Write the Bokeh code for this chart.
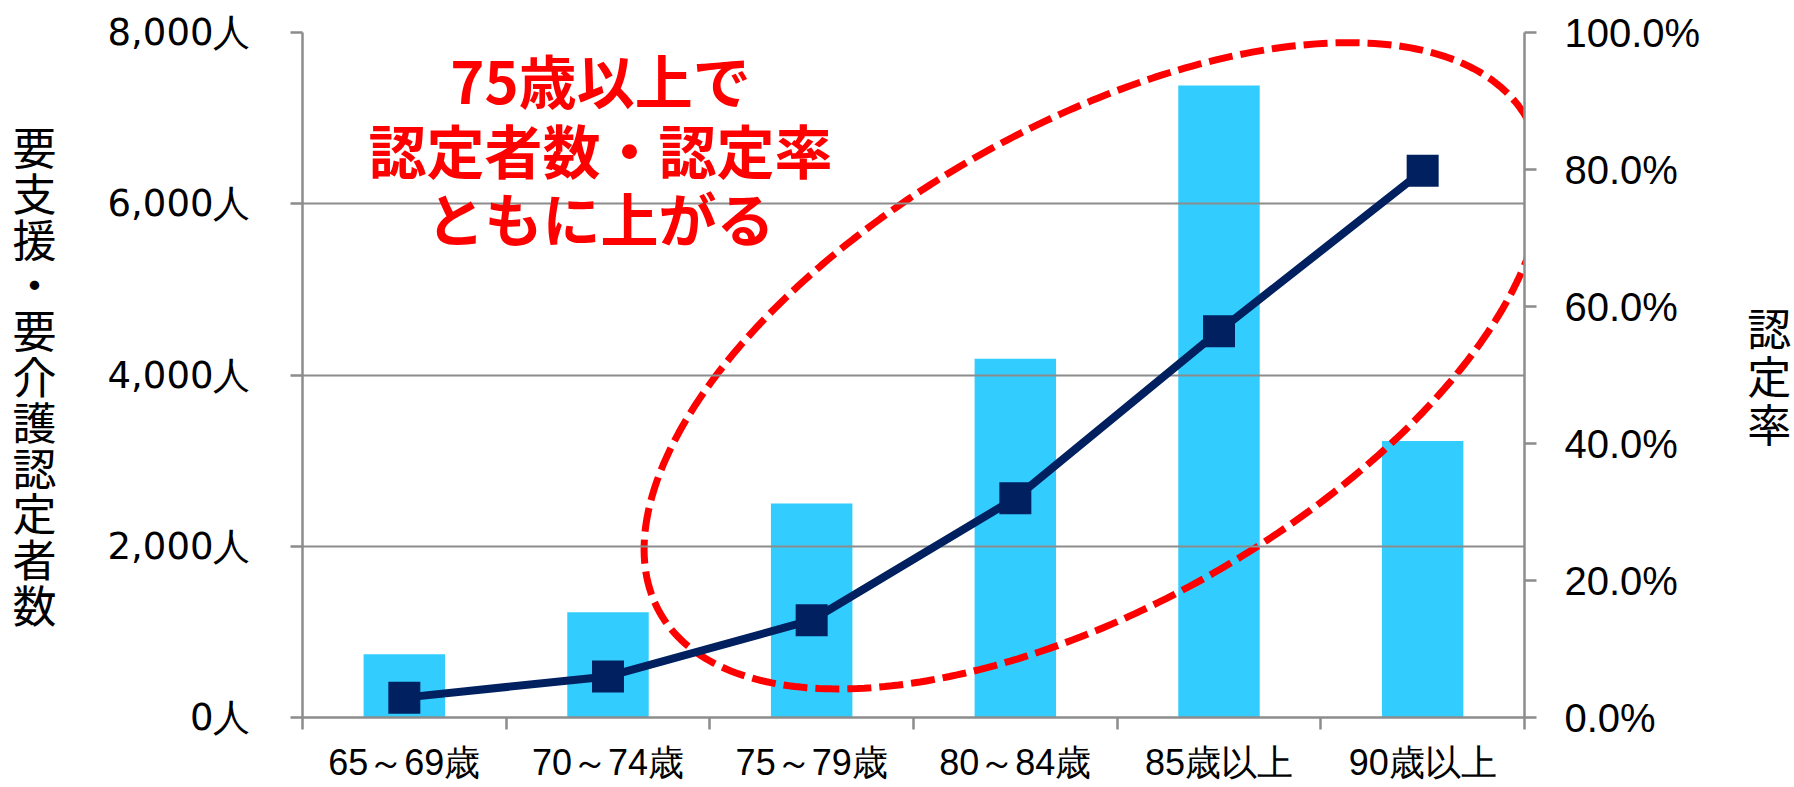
import math
from bokeh.plotting import figure
from bokeh.models import Range1d, LinearAxis, FixedTicker, Label, PolyAnnotation
from bokeh.embed import file_html
from bokeh.resources import INLINE

# ---- data ----
categories = ["65～69歳", "70～74歳", "75～79歳", "80～84歳", "85歳以上", "90歳以上"]
counts = [740, 1230, 2500, 4190, 7380, 3230]          # 要支援・要介護認定者数 (人)
rates = [2.9, 6.0, 14.2, 32.0, 56.4, 79.8]            # 認定率 (%)
count_ticks = [0, 2000, 4000, 6000, 8000]
count_tick_labels = ["0人", "2,000人", "4,000人", "6,000人", "8,000人"]
rate_ticks = [0, 20, 40, 60, 80, 100]
rate_tick_labels = ["0.0%", "20.0%", "40.0%", "60.0%", "80.0%", "100.0%"]
left_title = "要支援・要介護認定者数"
right_title = "認定率"
note_lines = ["75歳以上で", "認定者数・認定率", "ともに上がる"]

# ---- styles ----
BAR = "#33CCFF"
NAVY = "#00205F"
RED = "#FF0000"
GRAY = "#8C8C8C"
JP = "Noto Sans CJK JP"

W, H = 1794, 787
FL, FR, FT, FB = 302, 1524, 32, 717   # frame edges in page px

xs = list(range(len(categories)))

p = figure(width=W, height=H,
           x_range=Range1d(-0.5, len(categories) - 0.5),
           y_range=Range1d(0, 8000),
           output_backend="svg", toolbar_location=None,
           min_border_left=FL, min_border_right=W - FR,
           min_border_top=FT, min_border_bottom=H - FB)
p.extra_y_ranges = {"rate": Range1d(0, 100)}
p.outline_line_color = None

# grid
p.xgrid.grid_line_color = None
p.ygrid.ticker = FixedTicker(ticks=count_ticks)
p.ygrid.grid_line_color = GRAY
p.ygrid.grid_line_width = 2

# bars
bars = p.vbar(x=xs, top=counts, width=0.4, fill_color=BAR, line_color=None)
bars.level = "underlay"

# dashed ellipse highlight
px_x = (FR - FL) / 6.0
px_y = (FB - FT) / 8000.0
ecx, ecy = 1093.0, 365.3          # centre, page px
ea, eb, eang = 499.0, 239.5, math.radians(29.7)
exs, eys = [], []
for k in range(361):
    t = 2 * math.pi * k / 360
    dx = ea * math.cos(t) * math.cos(eang) - eb * math.sin(t) * math.sin(eang)
    dy = ea * math.cos(t) * math.sin(eang) + eb * math.sin(t) * math.cos(eang)
    exs.append(-0.5 + (ecx + dx - FL) / px_x)
    eys.append((FB - (ecy - dy)) / px_y)
ell = PolyAnnotation(xs=exs, ys=eys, fill_color=None, fill_alpha=0,
                     line_color=RED, line_alpha=1.0, line_width=7, line_dash="24 8",
                     level="underlay")
p.renderers.append(ell)

# rate line
p.line(x=xs, y=rates, y_range_name="rate", line_color=NAVY, line_width=8)
p.scatter(x=xs, y=rates, y_range_name="rate", marker="square", size=32,
          fill_color=NAVY, line_color=None)

# x axis
xa = p.xaxis[0]
xa.ticker = FixedTicker(ticks=xs, minor_ticks=[i - 0.5 for i in range(len(categories) + 1)])
xa.major_label_overrides = {i: c for i, c in zip(xs, categories)}
xa.major_tick_line_color = None
xa.major_tick_out = 0
xa.major_tick_in = 0
xa.minor_tick_line_color = GRAY
xa.minor_tick_line_width = 2.5
xa.minor_tick_out = 12
xa.minor_tick_in = 0
xa.axis_line_color = GRAY
xa.axis_line_width = 2.5
xa.major_label_standoff = 12
xa.major_label_text_font = "Liberation Sans"
xa.major_label_text_font_size = "36px"
xa.major_label_text_color = "black"

# left axis
ya = p.yaxis[0]
ya.ticker = FixedTicker(ticks=count_ticks)
ya.major_label_overrides = {t: l for t, l in zip(count_ticks, count_tick_labels)}
ya.minor_tick_line_color = None
ya.major_tick_line_color = GRAY
ya.major_tick_line_width = 2.5
ya.major_tick_out = 12
ya.major_tick_in = 0
ya.axis_line_color = GRAY
ya.axis_line_width = 2.5
ya.major_label_standoff = 40
ya.major_label_text_font = "DejaVu Sans"
ya.major_label_text_font_size = "37px"
ya.major_label_text_color = "black"
ya.axis_label = "\n".join(left_title)
ya.axis_label_orientation = "horizontal"
ya.axis_label_standoff = 48
ya.axis_label_text_font = JP
ya.axis_label_text_font_size = "44px"
ya.axis_label_text_font_style = "normal"
ya.axis_label_text_line_height = 0.716
ya.axis_label_text_color = "black"

# right axis
ra = LinearAxis(y_range_name="rate", ticker=FixedTicker(ticks=rate_ticks))
ra.major_label_overrides = {t: l for t, l in zip(rate_ticks, rate_tick_labels)}
ra.minor_tick_line_color = None
ra.major_tick_line_color = GRAY
ra.major_tick_line_width = 2.5
ra.major_tick_out = 12
ra.major_tick_in = 0
ra.axis_line_color = GRAY
ra.axis_line_width = 2.5
ra.major_label_standoff = 28
ra.major_label_text_font = "Liberation Sans"
ra.major_label_text_font_size = "40px"
ra.major_label_text_color = "black"
ra.axis_label = "\n".join(right_title)
ra.axis_label_orientation = "horizontal"
ra.axis_label_standoff = 44
ra.axis_label_text_font = JP
ra.axis_label_text_font_size = "44px"
ra.axis_label_text_font_style = "normal"
ra.axis_label_text_line_height = 0.754
ra.axis_label_text_color = "black"
p.add_layout(ra, "right")

# red note
note_y = [78.5, 148.5, 216.5]
for line, yy in zip(note_lines, note_y):
    p.add_layout(Label(x=600 - FL, y=FB - yy, x_units="screen", y_units="screen",
                       text=line, text_font=JP, text_font_size="58px",
                       text_font_style="bold",
                       text_align="center", text_baseline="middle", text_color=RED))

open("out.html", "w").write(file_html(p, INLINE))
